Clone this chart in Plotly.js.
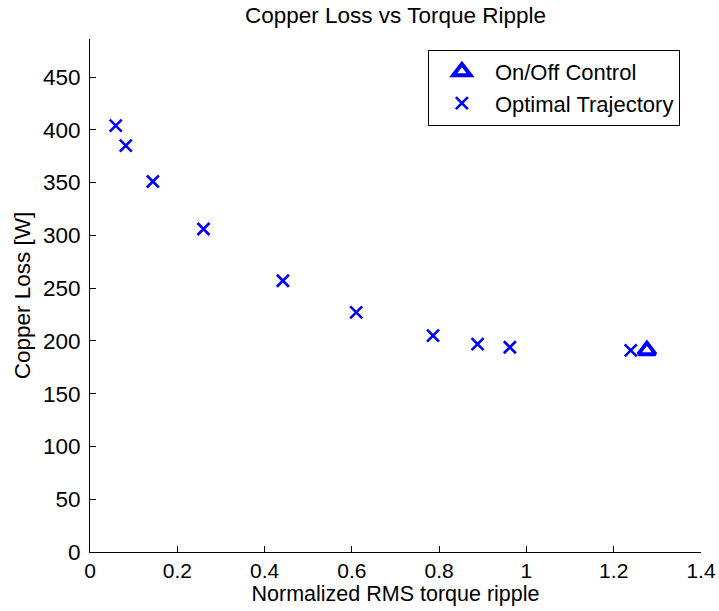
<!DOCTYPE html>
<html>
<head>
<meta charset="utf-8">
<script src="https://cdn.plot.ly/plotly-3.0.1.min.js"></script>
<style>
  html, body { margin: 0; padding: 0; background: #fff; }
  #chart { width: 719px; height: 611px; }
</style>
</head>
<body>
<div id="chart"></div>
<script>
// Optimal trajectory sweep: normalized RMS torque ripple vs copper loss
const optimalRipple = [0.059, 0.082, 0.144, 0.260, 0.442, 0.610, 0.786, 0.888, 0.962, 1.239];
const optimalLoss   = [404, 385, 351, 306, 257, 227, 205, 197, 194, 191];

// Conventional on/off control operating point
const onOffRipple = [1.276];
const onOffLoss   = [191];

const blue = '#0000ff';
const font = 'Liberation Sans, Arial, Helvetica, sans-serif';
const fs = 22.5;

const traces = [
  {
    x: onOffRipple, y: onOffLoss,
    type: 'scatter', mode: 'markers', name: 'On/Off Control',
    marker: { symbol: 'triangle-up-open', size: 15, color: blue, line: { color: blue, width: 4 } }
  },
  {
    x: optimalRipple, y: optimalLoss,
    type: 'scatter', mode: 'markers', name: 'Optimal Trajectory',
    marker: { symbol: 'x-thin-open', size: 12, color: blue, line: { color: blue, width: 2.6 } }
  }
];

const axisCommon = {
  showline: true, linecolor: '#000', linewidth: 1,
  ticks: 'inside', ticklen: 6, tickcolor: '#000',
  showgrid: false, zeroline: false, mirror: false
};

const layout = {
  width: 719, height: 611,
  margin: { l: 90, r: 18, t: 39, b: 59 },
  paper_bgcolor: '#fff', plot_bgcolor: '#fff',
  font: { family: font, color: '#000' },
  title: { text: 'Copper Loss vs Torque Ripple', font: { family: font, size: fs, color: '#000' },
           x: 0.5, xref: 'paper', xanchor: 'center', y: 0.975, yref: 'container', yanchor: 'middle' },
  xaxis: Object.assign({}, axisCommon, {
    range: [0, 1.4], dtick: 0.2, tick0: 0, ticklabelstandoff: 0,
    tickfont: { family: font, size: 21, color: '#000' },
    title: { text: 'Normalized RMS torque ripple', font: { family: font, size: 21.5, color: '#000' }, standoff: 1 }
  }),
  yaxis: Object.assign({}, axisCommon, {
    range: [0, 486], dtick: 50, tick0: 0, ticklabelstandoff: 4,
    tickfont: { family: font, size: fs, color: '#000' },
    title: { text: 'Copper Loss [W]', font: { family: font, size: fs, color: '#000' }, standoff: 6 }
  }),
  showlegend: true,
  legend: {
    x: 0.553, y: 0.979, xanchor: 'left', yanchor: 'top',
    bgcolor: '#fff', bordercolor: '#000', borderwidth: 1,
    font: { family: font, size: 22, color: '#000' },
    tracegroupgap: 0, itemwidth: 56
  }
};

Plotly.newPlot('chart', traces, layout, { displayModeBar: false, staticPlot: true });
</script>
</body>
</html>
